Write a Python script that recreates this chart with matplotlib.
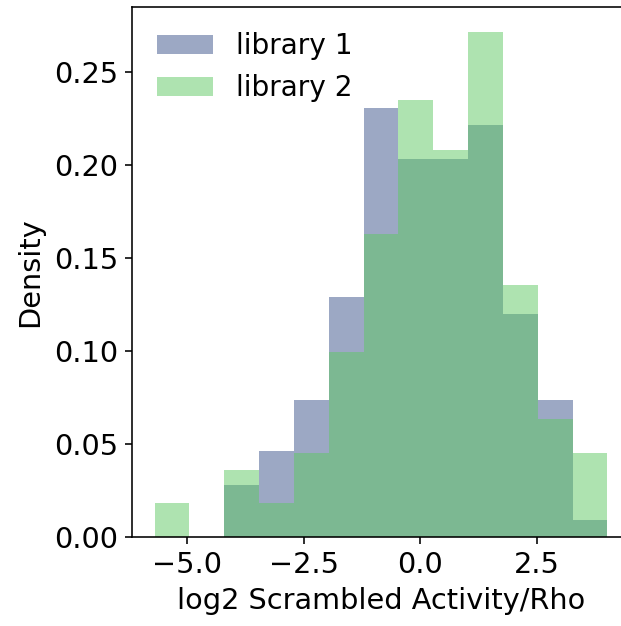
import matplotlib
matplotlib.use("Agg")
import matplotlib.pyplot as plt
import numpy as np

# histogram data (shared bins, counts per bin)
bin_edges = np.linspace(-5.70, 4.01, 14)
lib1_counts = [0, 0, 3, 5, 8, 14, 25, 22, 22, 24, 13, 8, 1]
lib2_counts = [2, 0, 4, 2, 5, 11, 18, 26, 23, 30, 15, 7, 5]
labels = ["library 1", "library 2"]
colors = ["#3B528B", "#5EC962"]

centers = (bin_edges[:-1] + bin_edges[1:]) / 2

plt.rcParams["font.size"] = 14.4

fig = plt.figure(figsize=(621 / 144, 626 / 144), dpi=144)
ax = fig.add_axes([132 / 621, (626 - 537) / 626, (630 - 132) / 621, (537 - 7) / 626])

ax.hist(centers, bins=bin_edges, weights=lib1_counts, density=True,
        alpha=0.5, color=colors[0], label=labels[0])
ax.hist(centers, bins=bin_edges, weights=lib2_counts, density=True,
        alpha=0.5, color=colors[1], label=labels[1])

ax.set_xlabel("log2 Scrambled Activity/Rho")
ax.set_ylabel("Density", labelpad=5)
ax.legend(loc="upper left", frameon=False, fontsize=14)

fig.savefig("out.png", dpi=144)
